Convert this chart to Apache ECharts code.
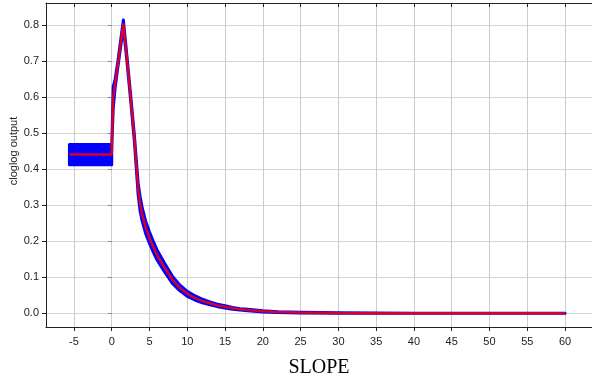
<!DOCTYPE html>
<html>
<head>
<meta charset="utf-8">
<script src="https://cdn.jsdelivr.net/npm/echarts@6/dist/echarts.min.js"></script>
<style>html,body{margin:0;padding:0;background:#fff}#c{width:592px;height:385px}</style>
</head>
<body>
<div id="c"></div>
<script>
// SLOPE values (x), mean response (red) and standard deviation (blue band half-width)
const slope = [-5.6, 0, 0, 0.03, 0.2, 0.45, 0.8, 1.54, 2.0, 2.5, 3.0, 3.5, 3.75, 4.0, 4.5, 5.0, 5.5, 6, 7, 8, 9, 10, 11, 12, 13, 14, 15, 16, 17, 18, 20, 22, 25, 30, 35, 40, 50, 60];
const meanResp = [0.441, 0.441, 0.441, 0.48, 0.60, 0.638, 0.69, 0.805, 0.71, 0.60, 0.485, 0.345, 0.305, 0.278, 0.238, 0.21, 0.185, 0.162, 0.127, 0.094, 0.071, 0.054, 0.043, 0.034, 0.028, 0.022, 0.018, 0.014, 0.011, 0.009, 0.0055, 0.0035, 0.002, 0.0008, 0.0004, 0.0002, 0.0001, 0.0];
const sdResp = [0.028, 0.028, 0.004, 0.005, 0.03, 0.012, 0.008, 0.01, 0.008, 0.008, 0.009, 0.016, 0.02, 0.019, 0.017, 0.016, 0.015, 0.014, 0.012, 0.01, 0.008, 0.007, 0.006, 0.005, 0.004, 0.0035, 0.003, 0.0025, 0.002, 0.002, 0.0015, 0.001, 0.001, 0.0005, 0.0003, 0.0002, 0.0001, 0.0001];
const xTicks = [-5, 0, 5, 10, 15, 20, 25, 30, 35, 40, 45, 50, 55, 60];
const yTicks = [0.0, 0.1, 0.2, 0.3, 0.4, 0.5, 0.6, 0.7, 0.8];
const xName = 'SLOPE';
const yName = 'cloglog output';

const chart = echarts.init(document.getElementById('c'));
const X_MIN = -8.7, X_MAX = 63.57, Y_MIN = -0.038, Y_MAX = 0.862;
const labelFont = { fontFamily: 'Liberation Sans, Arial, sans-serif', fontSize: 11, color: '#222' };

chart.setOption({
  animation: false,
  grid: { left: 46, right: 0, top: 3, bottom: 58 },
  xAxis: [{
    type: 'value', min: X_MIN, max: X_MAX, splitNumber: 14,
    axisLine: { show: true, onZero: false, lineStyle: { color: '#222', width: 1 } },
    axisTick: { show: true, inside: false, length: 4, customValues: xTicks, lineStyle: { color: '#222' } },
    axisLabel: Object.assign({ margin: 9, customValues: xTicks, formatter: v => String(v) }, labelFont),
    splitLine: { show: true, lineStyle: { color: '#cccccc', width: 1 } }
  }, {
    type: 'value', position: 'top', min: X_MIN, max: X_MAX, splitNumber: 14,
    axisLine: { show: true, onZero: false, lineStyle: { color: '#222', width: 1 } },
    axisTick: { show: true, inside: true, length: 4, customValues: xTicks, lineStyle: { color: '#222' } },
    axisLabel: { show: false },
    splitLine: { show: false }
  }],
  yAxis: [{
    type: 'value', min: Y_MIN, max: Y_MAX, splitNumber: 9,
    axisLine: { show: true, onZero: false, lineStyle: { color: '#222', width: 1 } },
    axisTick: { show: true, inside: false, length: 4, customValues: yTicks, lineStyle: { color: '#222' } },
    axisLabel: Object.assign({ margin: 7, customValues: yTicks, formatter: v => v.toFixed(1) }, labelFont),
    splitLine: { show: true, lineStyle: { color: '#d4d4d4', width: 1 } }
  }, {
    type: 'value', position: 'right', min: Y_MIN, max: Y_MAX, splitNumber: 9,
    axisLine: { show: false },
    axisTick: { show: true, inside: true, length: 4, customValues: yTicks, lineStyle: { color: '#888' } },
    axisLabel: { show: false },
    splitLine: { show: false }
  }],
  graphic: [{
    type: 'text', x: 14, y: 151, rotation: Math.PI / 2,
    style: { text: yName, font: '11px "Liberation Sans", Arial, sans-serif', fill: '#222', textAlign: 'center', textVerticalAlign: 'middle' }
  }, {
    type: 'text', x: 319, y: 368,
    style: { text: xName, font: '20px "Liberation Serif", "Times New Roman", serif', fill: '#000', textAlign: 'center', textVerticalAlign: 'middle' }
  }],
  series: [{
    type: 'custom',
    silent: true,
    clip: true,
    data: [[0, 0]],
    renderItem: function (params, api) {
      const pts = [];
      for (let i = 0; i < slope.length; i++) pts.push(api.coord([slope[i], meanResp[i] + sdResp[i]]));
      for (let i = slope.length - 1; i >= 0; i--) pts.push(api.coord([slope[i], meanResp[i] - sdResp[i]]));
      return {
        type: 'polygon',
        shape: { points: pts },
        style: { fill: '#0000ff', stroke: '#0000ff', lineWidth: 3, lineJoin: 'round' }
      };
    },
    z: 2
  }, {
    type: 'line',
    data: slope.map((x, i) => [x, meanResp[i]]),
    showSymbol: false,
    silent: true,
    lineStyle: { color: '#ff0000', opacity: 0.85, width: 2.5 },
    z: 3
  }]
});
</script>
</body>
</html>
